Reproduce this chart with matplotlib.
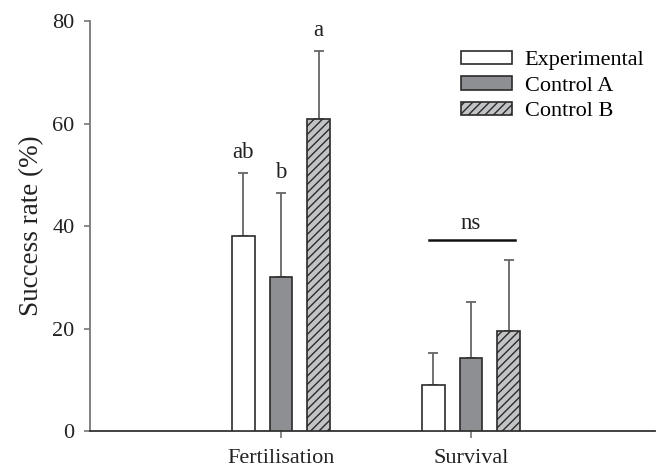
import numpy as np
import matplotlib
matplotlib.use("Agg")
import matplotlib.pyplot as plt

plt.rcParams['font.family'] = ['Liberation Serif', 'DejaVu Serif']
plt.rcParams['hatch.linewidth'] = 1.0

# data
groups = ['Fertilisation', 'Survival']
series = ['Experimental', 'Control A', 'Control B']
means = {
    'Experimental': [38.1, 9.0],
    'Control A': [30.0, 14.2],
    'Control B': [60.9, 19.5],
}
upper_err = {
    'Experimental': [12.3, 6.2],
    'Control A': [16.4, 11.0],
    'Control B': [13.2, 13.8],
}
sig_letters = {
    'Experimental': ['ab', ''],
    'Control A': ['b', ''],
    'Control B': ['a', ''],
}
ns_label = 'ns'
ns_level = 37.3
yticks = [0, 20, 40, 60, 80]

face = {'Experimental': 'white', 'Control A': '#8e8f92', 'Control B': '#c2c3c5'}
hatch = {'Experimental': None, 'Control A': None, 'Control B': '////'}

fig = plt.figure(figsize=(6.6, 4.7), dpi=100)
ax = fig.add_axes([0.1364, 0.083, 0.856, 0.872])

x = np.arange(1, len(groups) + 1)
width = 0.12
offsets = [-0.198, 0.0, 0.198]

for s, off in zip(series, offsets):
    m = np.array(means[s])
    e = np.array(upper_err[s])
    ax.bar(x + off, m, width, color=face[s], edgecolor='#2b2b2b',
           linewidth=1.2, hatch=hatch[s], label=s, zorder=3)
    ax.errorbar(x + off, m, yerr=[np.zeros_like(e), e], fmt='none',
                ecolor='#666666', elinewidth=1.3, capsize=3.3,
                capthick=1.3, zorder=2)
    for xi, top, lab in zip(x + off, m + e, sig_letters[s]):
        if lab:
            ax.annotate(lab, (xi, top), xytext=(0, 11),
                        textcoords='offset points', ha='center',
                        va='baseline', fontsize=16.5, color='#222222')

# non-significant bar over survival group
ax.plot([x[1] + offsets[0] - 0.025, x[1] + offsets[2] + 0.035],
        [ns_level, ns_level], color='#111111', lw=1.8)
ax.annotate(ns_label, (x[1], ns_level), xytext=(0, 8),
            textcoords='offset points', ha='center', va='baseline',
            fontsize=16.5, color='#222222')

ax.set_xlim(1 - 191 / 190, 2 + 184 / 190)
ax.set_ylim(0, 80)
ax.set_yticks(yticks)
ax.set_xticks(x)
ax.set_xticklabels(groups)
ax.set_ylabel('Success rate (%)', fontsize=19.5, color='#222222', labelpad=6)

for side in ['top', 'right']:
    ax.spines[side].set_visible(False)
ax.spines['left'].set_color('#777777')
ax.spines['left'].set_linewidth(1.3)
ax.spines['bottom'].set_color('#333333')
ax.spines['bottom'].set_linewidth(1.3)
ax.tick_params(axis='y', direction='out', length=4, width=1.2,
               color='#777777', labelsize=16, labelcolor='#222222', pad=7)
ax.tick_params(axis='x', direction='out', length=5, width=1.2,
               color='#777777', labelsize=16, labelcolor='#222222', pad=8)

ax.legend(loc='upper left', bbox_to_anchor=(0.657, 0.928), frameon=False,
          fontsize=16, handlelength=2.3, handleheight=0.55,
          handletextpad=0.55, labelspacing=0.27, borderpad=0,
          borderaxespad=0)

fig.savefig('out.png', dpi=100)
